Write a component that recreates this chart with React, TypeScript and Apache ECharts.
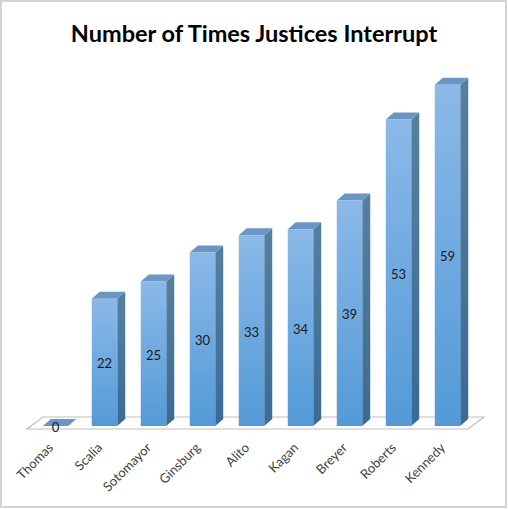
import React, { useEffect, useRef } from "react";
import * as echarts from "echarts";

const categories = ["Thomas", "Scalia", "Sotomayor", "Ginsburg", "Alito", "Kagan", "Breyer", "Roberts", "Kennedy"];
const values = [0, 22, 25, 30, 33, 34, 39, 53, 59];
const titleText = "Number of Times Justices Interrupt";

const DX = 8;
const DY = 7;
const BAR_RATIO = 0.52;

export default function App() {
  const ref = useRef<HTMLDivElement>(null);
  useEffect(() => {
    const chart = echarts.init(ref.current!, null, { renderer: "svg" });

    const renderFloor = (params: any, api: any) => {
      const c0 = api.coord([0, 0]);
      const c1 = api.coord([categories.length - 1, 0]);
      const bw = api.size([1, 0])[0];
      const left = c0[0] - bw / 2;
      const right = c1[0] + bw / 2;
      const base = c0[1];
      return {
        type: "polygon",
        shape: {
          points: [
            [left - 4, base + 3],
            [right - 4, base + 3],
            [right + 12, base - 9],
            [left + 12, base - 9],
          ],
        },
        style: { fill: "#ffffff", stroke: "#bfbfbf", lineWidth: 1.2 },
      };
    };

    const renderBar = (params: any, api: any) => {
      const idx = api.value(0);
      const v = api.value(1);
      const top = api.coord([idx, v]);
      const bot = api.coord([idx, 0]);
      const w = api.size([1, 0])[0] * BAR_RATIO;
      const xl = top[0] - w / 2;
      const xr = top[0] + w / 2;
      const y = top[1];
      const y0 = bot[1];
      const children: any[] = [
        {
          type: "polygon",
          shape: { points: [[xr, y], [xr + DX, y - DY], [xr + DX, y0 - DY], [xr, y0]] },
          style: {
            fill: new echarts.graphic.LinearGradient(0, 0, 0, 1, [
              { offset: 0, color: "#55809f" },
              { offset: 1, color: "#3a6b96" },
            ]),
          },
        },
        {
          type: "polygon",
          shape: { points: [[xl, y], [xl + DX, y - DY], [xr + DX, y - DY], [xr, y]] },
          style: { fill: "#6b95c2" },
        },
      ];
      if (y0 - y > 0) {
        children.push({
          type: "rect",
          shape: { x: xl, y: y, width: w, height: y0 - y },
          style: {
            fill: new echarts.graphic.LinearGradient(0, 0, 0, 1, [
              { offset: 0, color: "#8bb9e8" },
              { offset: 1, color: "#539ad7" },
            ]),
          },
        });
      }
      children.push({
        type: "text",
        style: {
          x: top[0],
          y: (y + y0) / 2 + 1,
          text: String(v),
          fill: "#1a1a1a",
          fontSize: 13,
          fontFamily: "Lato",
          align: "center",
          verticalAlign: "middle",
        },
      });
      return { type: "group", children };
    };

    chart.setOption({
      animation: false,
      backgroundColor: "#ffffff",
      title: {
        text: titleText,
        left: "center",
        top: 16,
        textStyle: { fontFamily: "Lato", fontWeight: "bold", fontSize: 23.5, color: "#000000" },
      },
      grid: { left: 31, right: 36, top: 79, bottom: 83 },
      xAxis: {
        type: "category",
        data: categories,
        axisLine: { show: false },
        axisTick: { show: false },
        axisLabel: {
          interval: 0,
          rotate: 45,
          margin: 14,
          padding: [0, 7, 0, 0],
          color: "#404040",
          fontSize: 13,
          fontFamily: "Lato",
        },
      },
      yAxis: { type: "value", min: 0, max: 60, show: false },
      graphic: [
        {
          type: "rect",
          shape: { x: 1, y: 1, width: 505, height: 506 },
          style: { fill: "none", stroke: "#d4d4d4", lineWidth: 2 },
          silent: true,
        },
      ],
      series: [
        { type: "custom", name: "floor", data: [[0, 0]], renderItem: renderFloor, z: 1, silent: true },
        { type: "custom", name: "bars", data: values.map((v, i) => [i, v]), renderItem: renderBar, z: 2 },
      ],
    });
    return () => chart.dispose();
  }, []);
  return <div ref={ref} style={{ position: "absolute", left: 0, top: 0, width: 508, height: 509 }} />;
}
